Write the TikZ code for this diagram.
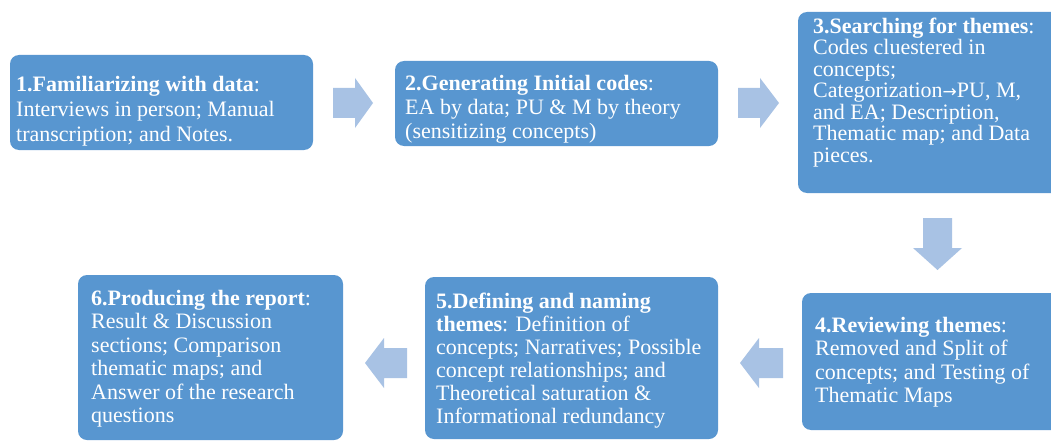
\documentclass[tikz,border=0pt]{standalone}
\usepackage{fontspec}
\setmainfont{Liberation Serif}
\newfontfamily\stepfont{Liberation Serif}
\newfontfamily\symfont{DejaVu Sans}
\definecolor{boxblue}{RGB}{88,150,208}
\definecolor{arrowblue}{RGB}{168,194,228}
\tikzset{
  stepbox/.style={fill=boxblue, draw=none, rounded corners=9pt, inner sep=0pt},
  steptext/.style={anchor=north west, inner sep=0pt, text=white, align=left,
    font=\stepfont\fontsize{22}{#1}\selectfont},
  blockarrow/.style={fill=arrowblue, draw=none},
}
\newcommand{\firstline}{\rule{0pt}{16pt}}
\begin{document}
\begin{tikzpicture}[x=1pt,y=-1pt]
  \clip (0,0) rectangle (1051,441);
  \fill[white] (0,0) rectangle (1051,441);

  % step boxes
  \node[stepbox, minimum width=303pt, minimum height=95pt]  (s1) at (161.5,102.5) {};
  \node[stepbox, minimum width=323pt, minimum height=85pt]  (s2) at (556.5,103.5) {};
  \node[stepbox, minimum width=264pt, minimum height=181pt] (s3) at (930,102.5) {};
  \node[stepbox, minimum width=260pt, minimum height=137pt] (s4) at (932,361.5) {};
  \node[stepbox, minimum width=293pt, minimum height=162pt] (s5) at (571.5,358) {};
  \node[stepbox, minimum width=265pt, minimum height=165pt] (s6) at (210.5,357.5) {};

  % step texts
  \node[steptext=25] (t1) at (16,75) {\firstline\textbf{1.Familiarizing with data}:\\
    Interviews in person; Manual\\ transcription; and Notes.};
  \node[steptext=24] (t2) at (405,74) {\firstline\textbf{2.Generating Initial codes}:\\
    EA by data; PU \& M by theory\\ (sensitizing concepts)};
  \node[steptext=21.5] (t3) at (813,17) {\firstline\textbf{3.Searching for themes}:\\
    Codes cluestered in\\ concepts;\\ Categorization{\symfont\fontsize{17}{17}\selectfont→}PU, M,\\ and EA; Description,\\
    Thematic map; and Data\\ pieces.};
  \node[steptext=23.5] (t4) at (815,316) {\firstline\textbf{4.Reviewing themes}:\\
    Removed and Split of\\ concepts; and Testing of\\ Thematic Maps};
  \node[steptext=23] (t5) at (436,292) {\firstline\textbf{5.Defining and naming}\\
    \textbf{themes}: Definition of\\ concepts; Narratives; Possible\\
    concept relationships; and\\ Theoretical saturation \&\\ Informational redundancy};
  \node[steptext=23.5] (t6) at (91,289) {\firstline\textbf{6.Producing the report}:\\
    Result \& Discussion\\ sections; Comparison\\ thematic maps; and\\
    Answer of the research\\ questions};

  % block arrows between the steps
  \fill[blockarrow] (333,88) -- (355,88) -- (355,78) -- (373,103) -- (355,128)
    -- (355,118) -- (333,118) -- cycle;
  \fill[blockarrow] (738,88) -- (760,88) -- (760,78) -- (779,103) -- (760,128)
    -- (760,118) -- (738,118) -- cycle;
  \fill[blockarrow] (923,218) -- (952,218) -- (952,248) -- (962,248) -- (937.5,270)
    -- (913,248) -- (923,248) -- cycle;
  \fill[blockarrow] (783,348) -- (759,348) -- (759,338) -- (740,363) -- (759,388)
    -- (759,378) -- (783,378) -- cycle;
  \fill[blockarrow] (407,348) -- (384,348) -- (384,338) -- (365,363) -- (384,388)
    -- (384,378) -- (407,378) -- cycle;
\end{tikzpicture}
\end{document}
